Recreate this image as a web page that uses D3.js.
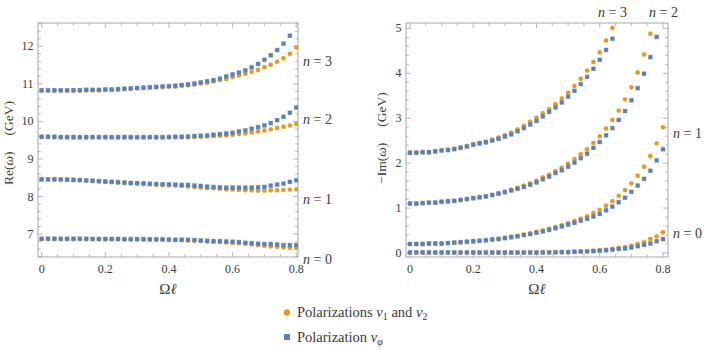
<!DOCTYPE html>
<html><head><meta charset="utf-8">
<script src="https://cdn.jsdelivr.net/npm/d3@7"></script>
<style>body{margin:0;background:#fff}svg{display:block}</style>
</head><body>
<script>
// ---- data ----
const omegaL = [0,0.02,0.04,0.06,0.08,0.10,0.12,0.14,0.16,0.18,0.20,0.22,0.24,0.26,0.28,0.30,0.32,0.34,0.36,0.38,0.40,0.42,0.44,0.46,0.48,0.50,0.52,0.54,0.56,0.58,0.60,0.62,0.64,0.66,0.68,0.70,0.72,0.74,0.76,0.78,0.80];

// Re(omega), polarizations v1 and v2
const reN0v12 = [6.87,6.87,6.87,6.87,6.87,6.87,6.87,6.87,6.865,6.865,6.865,6.865,6.865,6.86,6.86,6.86,6.86,6.855,6.855,6.855,6.85,6.84,6.84,6.831,6.822,6.813,6.804,6.796,6.787,6.778,6.769,6.76,6.743,6.725,6.707,6.69,6.672,6.663,6.645,6.636,6.627];
const reN1v12 = [8.455,8.455,8.455,8.45,8.445,8.44,8.435,8.425,8.415,8.405,8.395,8.385,8.375,8.365,8.355,8.345,8.335,8.325,8.315,8.305,8.298,8.291,8.283,8.265,8.256,8.238,8.229,8.221,8.203,8.194,8.185,8.177,8.168,8.168,8.159,8.159,8.168,8.168,8.177,8.185,8.194];
const reN2v12 = [9.59,9.59,9.58,9.58,9.58,9.58,9.58,9.58,9.58,9.58,9.58,9.58,9.58,9.58,9.58,9.58,9.58,9.58,9.58,9.58,9.58,9.575,9.575,9.575,9.584,9.593,9.601,9.61,9.619,9.628,9.646,9.663,9.681,9.708,9.734,9.761,9.787,9.823,9.858,9.894,9.93];
const reN3v12 = [10.82,10.82,10.82,10.82,10.82,10.82,10.82,10.83,10.83,10.83,10.84,10.84,10.85,10.86,10.87,10.88,10.89,10.90,10.91,10.92,10.93,10.93,10.95,10.96,10.98,11.01,11.03,11.06,11.10,11.13,11.18,11.22,11.27,11.32,11.37,11.44,11.51,11.59,11.68,11.80,11.97];
// Re(omega), polarization v_phi
const reN0vphi = [6.875,6.875,6.875,6.875,6.875,6.875,6.875,6.875,6.87,6.87,6.87,6.87,6.87,6.865,6.865,6.865,6.865,6.86,6.86,6.86,6.855,6.849,6.849,6.849,6.84,6.831,6.822,6.813,6.813,6.804,6.796,6.787,6.769,6.76,6.743,6.734,6.734,6.725,6.707,6.707,6.707];
const reN1vphi = [8.46,8.46,8.46,8.455,8.45,8.445,8.44,8.43,8.42,8.41,8.40,8.39,8.38,8.37,8.36,8.355,8.35,8.34,8.335,8.33,8.325,8.318,8.309,8.309,8.291,8.283,8.265,8.256,8.247,8.238,8.238,8.238,8.238,8.238,8.247,8.256,8.291,8.318,8.344,8.389,8.433];
const reN2vphi = [9.59,9.59,9.59,9.58,9.58,9.58,9.58,9.58,9.58,9.58,9.58,9.58,9.58,9.58,9.58,9.58,9.58,9.58,9.58,9.58,9.585,9.593,9.593,9.601,9.61,9.619,9.628,9.646,9.663,9.681,9.699,9.734,9.761,9.805,9.849,9.894,9.955,10.035,10.123,10.23,10.371];
const reN3vphi = [10.83,10.83,10.83,10.83,10.83,10.83,10.83,10.84,10.84,10.84,10.85,10.85,10.86,10.87,10.88,10.89,10.90,10.91,10.92,10.93,10.94,10.95,10.97,10.99,11.01,11.04,11.07,11.10,11.14,11.20,11.25,11.30,11.36,11.44,11.53,11.64,11.76,11.90,12.07,12.28,null];

// -Im(omega), polarizations v1 and v2
const imN0v12 = [0.01,0.01,0.01,0.01,0.01,0.01,0.01,0.01,0.01,0.01,0.01,0.01,0.01,0.01,0.01,0.01,0.01,0.01,0.01,0.01,0.01,0.015,0.015,0.018,0.02,0.025,0.03,0.035,0.04,0.05,0.06,0.07,0.09,0.11,0.13,0.16,0.20,0.24,0.31,0.37,0.46];
const imN1v12 = [0.20,0.20,0.20,0.21,0.21,0.21,0.22,0.23,0.24,0.25,0.26,0.27,0.29,0.30,0.32,0.34,0.36,0.38,0.41,0.44,0.47,0.50,0.54,0.58,0.62,0.66,0.71,0.76,0.82,0.89,0.96,1.05,1.15,1.27,1.40,1.55,1.72,1.92,2.16,2.44,2.80];
const imN2v12 = [1.10,1.10,1.11,1.12,1.12,1.14,1.15,1.16,1.18,1.20,1.22,1.24,1.26,1.29,1.33,1.37,1.41,1.45,1.50,1.55,1.61,1.68,1.74,1.82,1.90,1.99,2.09,2.20,2.31,2.45,2.60,2.77,2.96,3.17,3.42,3.69,4.02,4.42,4.88,null,null];
const imN3v12 = [2.24,2.24,2.25,2.25,2.27,2.29,2.30,2.32,2.35,2.38,2.42,2.45,2.48,2.52,2.57,2.62,2.68,2.75,2.83,2.92,3.01,3.11,3.20,3.31,3.44,3.57,3.72,3.88,4.06,4.25,4.47,4.73,5.01,null,null,null,null,null,null,null,null];
// -Im(omega), polarization v_phi
const imN0vphi = [0.01,0.01,0.01,0.01,0.01,0.01,0.01,0.01,0.01,0.01,0.01,0.01,0.01,0.01,0.01,0.01,0.01,0.01,0.01,0.01,0.01,0.01,0.012,0.015,0.018,0.02,0.025,0.03,0.035,0.04,0.05,0.06,0.07,0.09,0.10,0.12,0.15,0.18,0.21,0.26,0.31];
const imN1vphi = [0.20,0.20,0.20,0.21,0.21,0.21,0.22,0.23,0.24,0.25,0.26,0.27,0.28,0.30,0.31,0.33,0.35,0.37,0.40,0.42,0.45,0.48,0.51,0.55,0.59,0.63,0.67,0.72,0.76,0.81,0.87,0.95,1.03,1.13,1.23,1.36,1.50,1.65,1.83,2.06,2.31];
const imN2vphi = [1.10,1.10,1.11,1.12,1.12,1.14,1.15,1.16,1.18,1.20,1.22,1.24,1.26,1.29,1.32,1.35,1.39,1.43,1.47,1.52,1.57,1.64,1.70,1.78,1.84,1.92,2.01,2.11,2.21,2.34,2.47,2.62,2.78,2.96,3.16,3.40,3.67,3.99,4.36,4.81,null];
const imN3vphi = [2.23,2.23,2.24,2.24,2.26,2.28,2.29,2.31,2.34,2.37,2.41,2.44,2.46,2.50,2.54,2.59,2.64,2.71,2.78,2.86,2.94,3.04,3.14,3.24,3.35,3.48,3.61,3.76,3.92,4.10,4.30,4.52,4.77,null,null,null,null,null,null,null,null];

const xTickLabels = ["0","0.2","0.4","0.6","0.8"];
const reTickLabels = ["7","8","9","10","11","12"];
const imTickLabels = ["0","1","2","3","4","5"];

// ---- drawing ----
const ORANGE = "#E19C24", BLUE = "#5E81B5";
const FRAME = "#a8a8a8", TXT = "#3a3a3a";
const FONT = "Liberation Serif";

const svg = d3.select("body").append("svg").attr("width",713).attr("height",350);
function txt(sel){ return sel.append("text").style("font-family",`"${FONT}"`); }

const panels = [
  {left:38, right:298, top:23, bottom:257, xdom:[-0.0115,0.8055], ydom:[6.39,12.62],
   yMajor:reTickLabels.map(Number), yLabels:reTickLabels,
   v12:[reN0v12,reN1v12,reN2v12,reN3v12], vphi:[reN0vphi,reN1vphi,reN2vphi,reN3vphi]},
  {left:406, right:668, top:23, bottom:257, xdom:[-0.0126,0.8158], ydom:[-0.09,5.12],
   yMajor:imTickLabels.map(Number), yLabels:imTickLabels,
   v12:[imN0v12,imN1v12,imN2v12,imN3v12], vphi:[imN0vphi,imN1vphi,imN2vphi,imN3vphi]}
];

panels.forEach((p,pi)=>{
  const x = d3.scaleLinear().domain(p.xdom).range([p.left,p.right]);
  const y = d3.scaleLinear().domain(p.ydom).range([p.bottom,p.top]);
  p.x = x; p.y = y;
  const g = svg.append("g");
  const clipId = "clip"+pi;
  svg.append("clipPath").attr("id",clipId).append("rect")
    .attr("x",p.left).attr("y",p.top).attr("width",p.right-p.left).attr("height",p.bottom-p.top);

  g.append("rect").attr("x",p.left).attr("y",p.top).attr("width",p.right-p.left).attr("height",p.bottom-p.top)
    .attr("fill","none").attr("stroke",FRAME).attr("stroke-width",1);

  const xMajor = xTickLabels.map(Number);
  const xMinor = d3.range(0,0.8001,0.05).filter(v=>!xMajor.some(m=>Math.abs(m-v)<1e-6));
  const tk = g.append("g").attr("stroke",FRAME).attr("stroke-width",0.8);
  xMajor.forEach(v=>{
    tk.append("line").attr("x1",x(v)).attr("x2",x(v)).attr("y1",p.bottom).attr("y2",p.bottom-5);
    tk.append("line").attr("x1",x(v)).attr("x2",x(v)).attr("y1",p.top).attr("y2",p.top+5);
  });
  xMinor.forEach(v=>{
    tk.append("line").attr("x1",x(v)).attr("x2",x(v)).attr("y1",p.bottom).attr("y2",p.bottom-2.8);
    tk.append("line").attr("x1",x(v)).attr("x2",x(v)).attr("y1",p.top).attr("y2",p.top+2.8);
  });
  const yMinAll = d3.range(Math.ceil(p.ydom[0]*5)/5, p.ydom[1], 0.2);
  yMinAll.forEach(v=>{
    const isMaj = p.yMajor.some(m=>Math.abs(m-v)<1e-6);
    const len = isMaj?5:2.8;
    tk.append("line").attr("y1",y(v)).attr("y2",y(v)).attr("x1",p.left).attr("x2",p.left+len);
    tk.append("line").attr("y1",y(v)).attr("y2",y(v)).attr("x1",p.right).attr("x2",p.right-len);
  });

  xTickLabels.forEach((t,i)=>{
    txt(g).attr("x",x(xMajor[i])).attr("y",p.bottom+15.5).attr("text-anchor","middle")
      .attr("font-size",12).attr("fill",TXT).text(t);
  });
  p.yLabels.forEach((t,i)=>{
    txt(g).attr("x",p.left-4.5).attr("y",y(p.yMajor[i])+4).attr("text-anchor","end")
      .attr("font-size",12).attr("fill",TXT).text(t);
  });

  const xl = txt(g).attr("x",(p.left+p.right)/2).attr("y",p.bottom+37).attr("text-anchor","middle")
    .attr("font-size",15).attr("fill",TXT);
  xl.append("tspan").text("Ω");
  xl.append("tspan").attr("font-style","italic").text("ℓ");

  const pts = g.append("g").attr("clip-path",`url(#${clipId})`);
  p.v12.forEach(series=>{
    pts.append("g").selectAll("circle").data(series.map((v,i)=>[omegaL[i],v]).filter(d=>d[1]!==null))
      .join("circle").attr("cx",d=>x(d[0])).attr("cy",d=>y(d[1])).attr("r",2.2)
      .attr("fill",ORANGE).attr("stroke",ORANGE).attr("stroke-opacity",0.35).attr("stroke-width",0.8);
  });
  p.vphi.forEach(series=>{
    pts.append("g").selectAll("rect").data(series.map((v,i)=>[omegaL[i],v]).filter(d=>d[1]!==null))
      .join("rect").attr("x",d=>x(d[0])-2).attr("y",d=>y(d[1])-2).attr("width",4).attr("height",4)
      .attr("fill",BLUE).attr("stroke",BLUE).attr("stroke-opacity",0.35).attr("stroke-width",0.8);
  });
});

function yLabel(cx, cy, parts){
  const t = txt(svg).attr("transform",`translate(${cx},${cy}) rotate(-90)`)
    .attr("text-anchor","middle").attr("font-size",13.5).attr("fill",TXT);
  parts.forEach(pt=>{
    const s = t.append("tspan").text(pt.t);
    if(pt.i) s.attr("font-style","italic");
    if(pt.dx) s.attr("dx",pt.dx);
  });
}
yLabel(13, 143, [{t:"Re("},{t:"ω",i:true},{t:")"},{t:"(GeV)",dx:16}]);
yLabel(386, 138, [{t:"−Im("},{t:"ω",i:true},{t:")"},{t:"(GeV)",dx:16}]);

function nLabel(xp, yp){
  return txt(svg).attr("x",xp).attr("y",yp).attr("font-size",14).attr("fill",TXT);
}
const nNames = ["0","1","2","3"];
function addN(t, k){
  t.append("tspan").attr("font-style","italic").text("n");
  t.append("tspan").text(" = "+nNames[k]);
}
const L = panels[0], R = panels[1];
addN(nLabel(L.right+5, L.bottom+7), 0);
addN(nLabel(L.right+5, 204), 1);
addN(nLabel(L.right+5, 124), 2);
addN(nLabel(L.right+5, 66), 3);
addN(nLabel(R.right+5, 238), 0);
addN(nLabel(R.right+5, 138), 1);
addN(nLabel(R.x(0.8)-14, 17), 2);
addN(nLabel(R.x(0.62)-8, 17), 3);

const lg = svg.append("g");
lg.append("circle").attr("cx",287).attr("cy",312.5).attr("r",3.2).attr("fill",ORANGE);
lg.append("rect").attr("x",284).attr("y",334).attr("width",6).attr("height",6).attr("fill",BLUE);
const t1 = txt(lg).attr("x",297).attr("y",317).attr("font-size",14.5).attr("fill",TXT);
t1.append("tspan").text("Polarizations ");
t1.append("tspan").attr("font-style","italic").text("v");
t1.append("tspan").attr("font-size",10).attr("dy",3).text("1");
t1.append("tspan").attr("dy",-3).text(" and ");
t1.append("tspan").attr("font-style","italic").text("v");
t1.append("tspan").attr("font-size",10).attr("dy",3).text("2");
const t2 = txt(lg).attr("x",297).attr("y",342).attr("font-size",14.5).attr("fill",TXT);
t2.append("tspan").text("Polarization ");
t2.append("tspan").attr("font-style","italic").text("v");
t2.append("tspan").attr("font-style","italic").attr("font-size",10).attr("dy",3).text("φ");
</script>
</body></html>
